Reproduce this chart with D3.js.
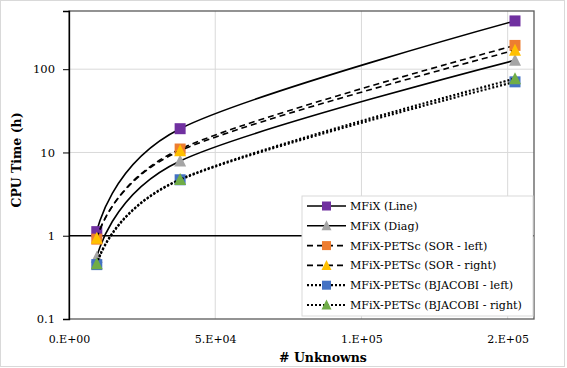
<!DOCTYPE html>
<html><head><meta charset="utf-8">
<script src="https://cdn.jsdelivr.net/npm/d3@7"></script>
<style>body{margin:0;background:#fff}svg{display:block}text{font-family:"DejaVu Serif",serif}</style>
</head><body><svg id="c" width="567" height="368"></svg>
<script>
const unknowns = [9500, 38000, 152500];
const seriesNames = ["MFiX (Line)","MFiX (Diag)","MFiX-PETSc (SOR - left)","MFiX-PETSc (SOR - right)","MFiX-PETSc (BJACOBI - left)","MFiX-PETSc (BJACOBI - right)"];
const mfixLine = [1.12, 19.3, 380];
const mfixDiag = [0.55, 7.9, 128];
const sorLeft = [0.91, 11.0, 193];
const sorRight = [0.93, 10.5, 169];
const bjLeft = [0.45, 4.7, 70.5];
const bjRight = [0.46, 4.75, 77];
const yTicks = [0.1, 1, 10, 100];
const xTicks = [0, 50000, 100000, 150000];
const xTickLabels = ["0.E+00","5.E+04","1.E+05","2.E+05"];
const colors = ["#7030A0","#A5A5A5","#ED7D31","#FFC000","#4472C4","#70AD47"];
const markers = ["square","triangle","square","triangle","square","triangle"];
const dashes = [null,null,"6,4","6,4","2,2","2,2"];
const values = [mfixLine,mfixDiag,sorLeft,sorRight,bjLeft,bjRight];

const svg = d3.select("#c");
const L=69,R=534,T=11,B=319;
const x = d3.scaleLinear().domain([0,159000]).range([L,R]);
const y = d3.scaleLog().domain([0.1,500]).range([B,T]);

svg.append("rect").attr("x",0.5).attr("y",0.5).attr("width",564).attr("height",366).attr("fill","#fff").attr("stroke","#d9d9d9");

// gridlines
svg.append("g").selectAll("line").data(xTicks.slice(1)).join("line")
 .attr("x1",d=>x(d)).attr("x2",d=>x(d)).attr("y1",T).attr("y2",B).attr("stroke","#d9d9d9").attr("stroke-width",1);
svg.append("g").selectAll("line").data([10,100]).join("line")
 .attr("x1",L).attr("x2",R).attr("y1",d=>y(d)).attr("y2",d=>y(d)).attr("stroke","#d9d9d9").attr("stroke-width",1);
// plot border
svg.append("rect").attr("x",L).attr("y",T).attr("width",R-L).attr("height",B-T).attr("fill","none").attr("stroke","#595959").attr("stroke-width",1.3);
// axis line at 1
svg.append("line").attr("x1",L).attr("x2",R).attr("y1",y(1)).attr("y2",y(1)).attr("stroke","#000").attr("stroke-width",1.3);
// y axis
const yAxis = d3.axisLeft(y).tickValues(yTicks).tickFormat(d=>String(d)).tickSize(6).tickPadding(8);
const ga = svg.append("g").attr("transform",`translate(${L},0)`).call(yAxis);
ga.select(".domain").attr("stroke","#000").attr("stroke-width",1.3);
ga.selectAll(".tick line").attr("stroke","#000");
ga.selectAll("text").attr("font-size",11.5).attr("font-family","DejaVu Serif").attr("fill","#000");
// x axis labels
const xAxis = d3.axisBottom(x).tickValues(xTicks).tickFormat((d,i)=>xTickLabels[i]).tickSize(0).tickPadding(16);
const gx = svg.append("g").attr("transform",`translate(0,${B})`).call(xAxis);
gx.select(".domain").remove();
gx.selectAll("text").attr("font-size",11).attr("font-family","DejaVu Serif").attr("fill","#000");

svg.append("text").attr("x",323).attr("y",362).attr("text-anchor","middle").attr("font-size",12.5).attr("font-weight","bold").text("# Unknowns");
svg.append("text").attr("transform","translate(21,160) rotate(-90)").attr("text-anchor","middle").attr("font-size",12.5).attr("font-weight","bold").text("CPU Time (h)");

const line = d3.line().x(d=>x(d[0])).y(d=>y(d[1])).curve(d3.curveCardinal.tension(0));
function marker(g, type, cx, cy, color, s){
  if(type==="square"){
    g.append("rect").attr("x",cx-s/2).attr("y",cy-s/2).attr("width",s).attr("height",s).attr("fill",color);
  } else {
    const h=s*1.0;
    g.append("path").attr("d",`M${cx},${cy-h/2-1}L${cx+s/2+0.5},${cy+h/2}L${cx-s/2-0.5},${cy+h/2}Z`).attr("fill",color);
  }
}
values.forEach((vals,i)=>{
  const pts = unknowns.map((u,j)=>[u,vals[j]]);
  const g = svg.append("g");
  g.append("path").attr("d",line(pts)).attr("fill","none").attr("stroke","#000")
   .attr("stroke-width",dashes[i]==="2,2"?2.2:1.6).attr("stroke-dasharray",dashes[i]);
  pts.forEach(p=>marker(g,markers[i],x(p[0]),y(p[1]),colors[i],11));
});

// legend
const lg = svg.append("g");
lg.append("rect").attr("x",302).attr("y",196).attr("width",231).attr("height",120).attr("fill","#fff").attr("stroke","#d9d9d9");
seriesNames.forEach((n,i)=>{
  const cy = 206+i*19.8;
  lg.append("line").attr("x1",307).attr("x2",346).attr("y1",cy).attr("y2",cy).attr("stroke","#000")
    .attr("stroke-width",dashes[i]==="2,2"?2.2:1.6).attr("stroke-dasharray",dashes[i]);
  marker(lg,markers[i],326.5,cy,colors[i],9);
  lg.append("text").attr("x",350).attr("y",cy+4).attr("font-size",11.1).attr("font-family","DejaVu Serif").text(n);
});
</script></body></html>
